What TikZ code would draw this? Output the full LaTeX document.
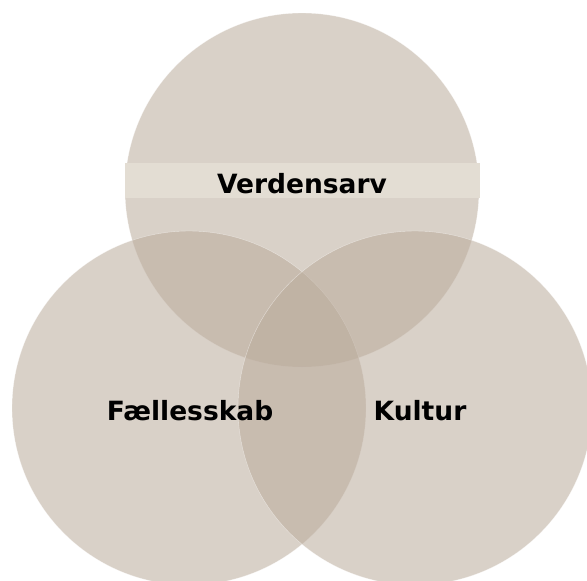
\documentclass[tikz,border=0pt]{standalone}
\usepackage{fontspec}
\setmainfont{DejaVu Sans}
\definecolor{vennfill}{HTML}{BAAB9B}
\definecolor{bandfill}{HTML}{E3DDD3}
\begin{document}
\begin{tikzpicture}[x=1pt,y=-1pt]
	\tikzstyle{venn}=[fill=vennfill, fill opacity=0.55, draw=white, draw opacity=0.5, line width=0.4pt]
	\tikzstyle{setname}=[font=\fontsize{26.5}{30}\selectfont\bfseries, text=black, inner sep=0pt, anchor=base]
	\useasboundingbox (0,0) rectangle (587,581);
	\clip (0,0) rectangle (587,581);
	% the three sets
	\draw [venn] (302,190) circle [radius=177pt];
	\draw [venn] (189,408) circle [radius=177pt];
	\draw [venn] (415,408) circle [radius=177pt];
	% band across the top set
	\fill [bandfill] (125,163) rectangle (480,198);
	\node [setname] (arv) at (302,193) {Verdensarv};
	\node [setname] (faelles) at (190,420) {Fællesskab};
	\node [setname] (kultur) at (420,420) {Kultur};
\end{tikzpicture}
\end{document}
